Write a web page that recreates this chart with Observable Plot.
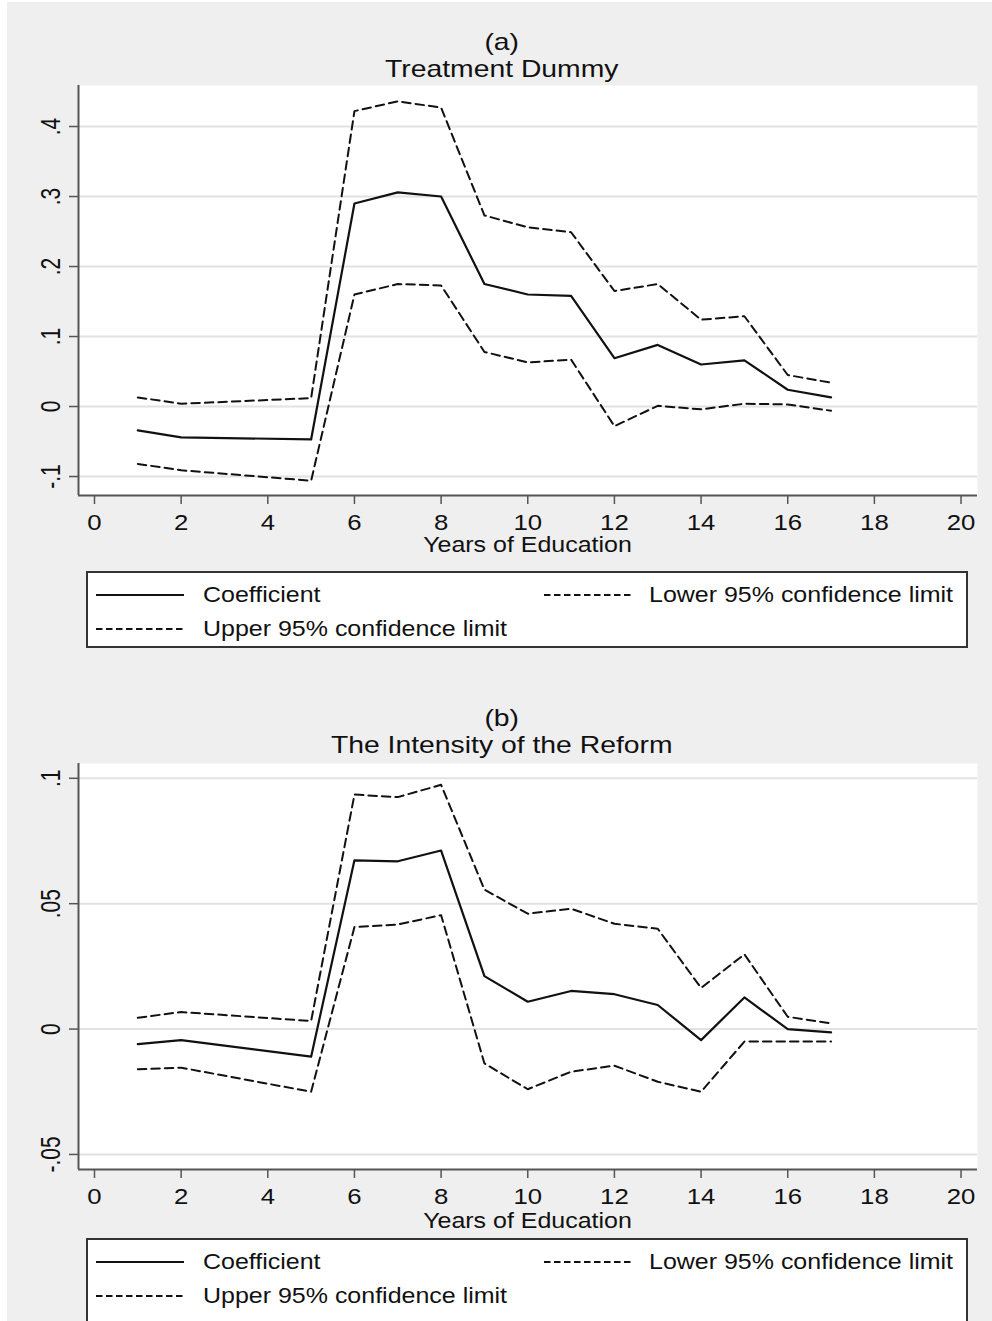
<!DOCTYPE html>
<html>
<head>
<meta charset="utf-8">
<script src="https://cdn.jsdelivr.net/npm/d3@7"></script>
<script src="https://cdn.jsdelivr.net/npm/@observablehq/plot@0.6"></script>
<style>
html,body{margin:0;padding:0;background:#fff;}
body{width:992px;height:1321px;position:relative;overflow:hidden;font-family:"Liberation Sans",Arial,Helvetica,sans-serif;color:#111;}
#bg{position:absolute;left:7px;top:2px;right:0;bottom:0;background:#efefef;}
.title{position:absolute;left:7px;width:992px;text-align:center;font-size:24px;line-height:27px;height:54px;white-space:nowrap;transform:scaleX(1.18);transform-origin:503px 50%;}
.xlabel{position:absolute;left:78px;width:899px;text-align:center;font-size:22.5px;line-height:20px;height:20px;white-space:nowrap;transform:scaleX(1.11);transform-origin:50% 50%;}
.chart{position:absolute;left:0;}
.legend{position:absolute;left:86px;width:878px;background:#fff;border:2px solid #333;}
.legend .txt{position:absolute;font-size:22.5px;line-height:30px;height:30px;white-space:nowrap;transform:scaleX(1.11);transform-origin:0 50%;}
.legend svg{position:absolute;}
</style>
</head>
<body>
<div id="bg"></div>
<div id="root"></div>
<script>
// ---- data ----
const years = [1, 2, 5, 6, 7, 8, 9, 10, 11, 12, 13, 14, 15, 16, 17];

const coefA  = [-0.034, -0.044, -0.047, 0.290, 0.306, 0.300, 0.175, 0.160, 0.158, 0.069, 0.088, 0.060, 0.066, 0.024, 0.013];
const upperA = [0.013, 0.004, 0.012, 0.422, 0.436, 0.427, 0.273, 0.256, 0.249, 0.165, 0.175, 0.124, 0.129, 0.045, 0.034];
const lowerA = [-0.082, -0.091, -0.106, 0.160, 0.175, 0.173, 0.078, 0.063, 0.067, -0.028, 0.001, -0.004, 0.004, 0.003, -0.006];

const coefB  = [-0.0060, -0.0044, -0.0110, 0.0673, 0.0669, 0.0712, 0.0211, 0.0109, 0.0152, 0.0139, 0.0096, -0.0044, 0.0126, 0.0000, -0.0013];
const upperB = [0.0045, 0.0068, 0.0032, 0.0935, 0.0925, 0.0974, 0.0556, 0.0460, 0.0480, 0.0420, 0.0400, 0.0164, 0.0298, 0.0049, 0.0023];
const lowerB = [-0.0160, -0.0154, -0.0250, 0.0407, 0.0417, 0.0454, -0.0137, -0.0240, -0.0170, -0.0146, -0.0210, -0.0250, -0.0050, -0.0050, -0.0050];

const xTicks  = [0, 2, 4, 6, 8, 10, 12, 14, 16, 18, 20];
const yTicksA = [-0.1, 0, 0.1, 0.2, 0.3, 0.4];
const yTicksB = [-0.05, 0, 0.05, 0.1];

const titlesA = ["(a)", "Treatment Dummy"];
const titlesB = ["(b)", "The Intensity of the Reform"];
const xLabel = "Years of Education";
const seriesLabels = ["Coefficient", "Lower 95% confidence limit", "Upper 95% confidence limit"];

// ---- helpers ----
const xDomain = [-0.369, 20.38];
function stataFmt(d) {
  if (d === 0) return "0";
  const s = String(+d.toFixed(3));
  return s.replace(/^(-?)0\./, "$1.");
}

function panel(coef, upper, lower, yDomain, yTicks, plotH) {
  const rows = years.map((x, i) => ({x, coef: coef[i], upper: upper[i], lower: lower[i]}));
  const svg = Plot.plot({
    width: 992,
    height: plotH + 70,
    marginLeft: 78,
    marginRight: 15,
    marginTop: 0,
    marginBottom: 70,
    style: {background: "transparent", fontFamily: '"Liberation Sans", Arial, sans-serif', fontSize: "23px", color: "#111", overflow: "visible"},
    x: {domain: xDomain},
    y: {domain: yDomain},
    marks: [
      Plot.frame({fill: "#fff", stroke: "none"}),
      Plot.gridY(yTicks, {stroke: "#e2e2e2", strokeOpacity: 1, strokeWidth: 2}),
      Plot.ruleX([xDomain[0]], {stroke: "#555", strokeWidth: 2}),
      Plot.ruleY([yDomain[0]], {stroke: "#555", strokeWidth: 2}),
      Plot.axisX(xTicks, {tickSize: 9, tickPadding: 9, stroke: "#555", strokeWidth: 1.5, fontSize: 23, fill: "#111", label: null}),
      Plot.axisY(yTicks, {tickSize: 9, tickRotate: -90, tickPadding: 10, tickFormat: stataFmt, stroke: "#555", strokeWidth: 1.5, fontSize: 21, fill: "#111", label: null}),
      Plot.line(rows, {x: "x", y: "upper", stroke: "#111", strokeWidth: 2, strokeDasharray: "8.5,5"}),
      Plot.line(rows, {x: "x", y: "lower", stroke: "#111", strokeWidth: 2, strokeDasharray: "8.5,5"}),
      Plot.line(rows, {x: "x", y: "coef", stroke: "#111", strokeWidth: 2.2})
    ]
  });
  // widen glyphs like the reference rendering (stretched type)
  svg.querySelectorAll('g[aria-label="y-axis tick label"] text').forEach(t => {
    const tr = t.getAttribute("transform") || "";
    t.setAttribute("transform", tr + " scale(1,1.33)");
  });
  svg.querySelectorAll('g[aria-label="x-axis tick label"] text').forEach(t => {
    const tr = t.getAttribute("transform") || "";
    t.setAttribute("transform", tr + " scale(1.12,1)");
  });
  return svg;
}

const root = document.getElementById("root");

function addTitle(lines, yTop) {
  const d = document.createElement("div");
  d.className = "title";
  d.style.top = yTop + "px";
  lines.forEach((s, i) => {
    if (i) d.appendChild(document.createElement("br"));
    d.appendChild(document.createTextNode(s));
  });
  root.appendChild(d);
}

function addChart(svg, top) {
  const d = document.createElement("div");
  d.className = "chart";
  d.style.top = top + "px";
  d.appendChild(svg);
  root.appendChild(d);
}

function addXLabel(y) {
  const d = document.createElement("div");
  d.className = "xlabel";
  d.style.top = (y - 10) + "px";
  d.textContent = xLabel;
  root.appendChild(d);
}

function sample(dashed) {
  const ns = "http://www.w3.org/2000/svg";
  const s = document.createElementNS(ns, "svg");
  s.setAttribute("width", 90); s.setAttribute("height", 30);
  const l = document.createElementNS(ns, "line");
  l.setAttribute("x1", 1); l.setAttribute("x2", 89);
  l.setAttribute("y1", 15); l.setAttribute("y2", 15);
  l.setAttribute("stroke", "#111"); l.setAttribute("stroke-width", 2);
  if (dashed) l.setAttribute("stroke-dasharray", "6.5,3.5");
  s.appendChild(l);
  return s;
}

function addLegend(top, height) {
  const box = document.createElement("div");
  box.className = "legend";
  box.style.top = top + "px";
  box.style.height = height + "px";
  const items = [
    {label: seriesLabels[0], dashed: false, lx: 7, tx: 115, cy: 22},
    {label: seriesLabels[1], dashed: true, lx: 455, tx: 561, cy: 22},
    {label: seriesLabels[2], dashed: true, lx: 7, tx: 115, cy: 56}
  ];
  items.forEach(it => {
    const sv = sample(it.dashed);
    sv.style.left = it.lx + "px";
    sv.style.top = (it.cy - 15) + "px";
    box.appendChild(sv);
    const t = document.createElement("div");
    t.className = "txt";
    t.style.left = it.tx + "px";
    t.style.top = (it.cy - 15) + "px";
    t.textContent = it.label;
    box.appendChild(t);
  });
  root.appendChild(box);
}

// Panel (a)
addTitle(titlesA, 28);
addChart(panel(coefA, upperA, lowerA, [-0.1271, 0.4586], yTicksA, 410), 85);
addXLabel(545);
addLegend(571, 73);

// Panel (b)
addTitle(titlesB, 703.5);
addChart(panel(coefB, upperB, lowerB, [-0.0560, 0.1059], yTicksB, 406), 763);
addXLabel(1221);
addLegend(1238, 90);
</script>
</body>
</html>
